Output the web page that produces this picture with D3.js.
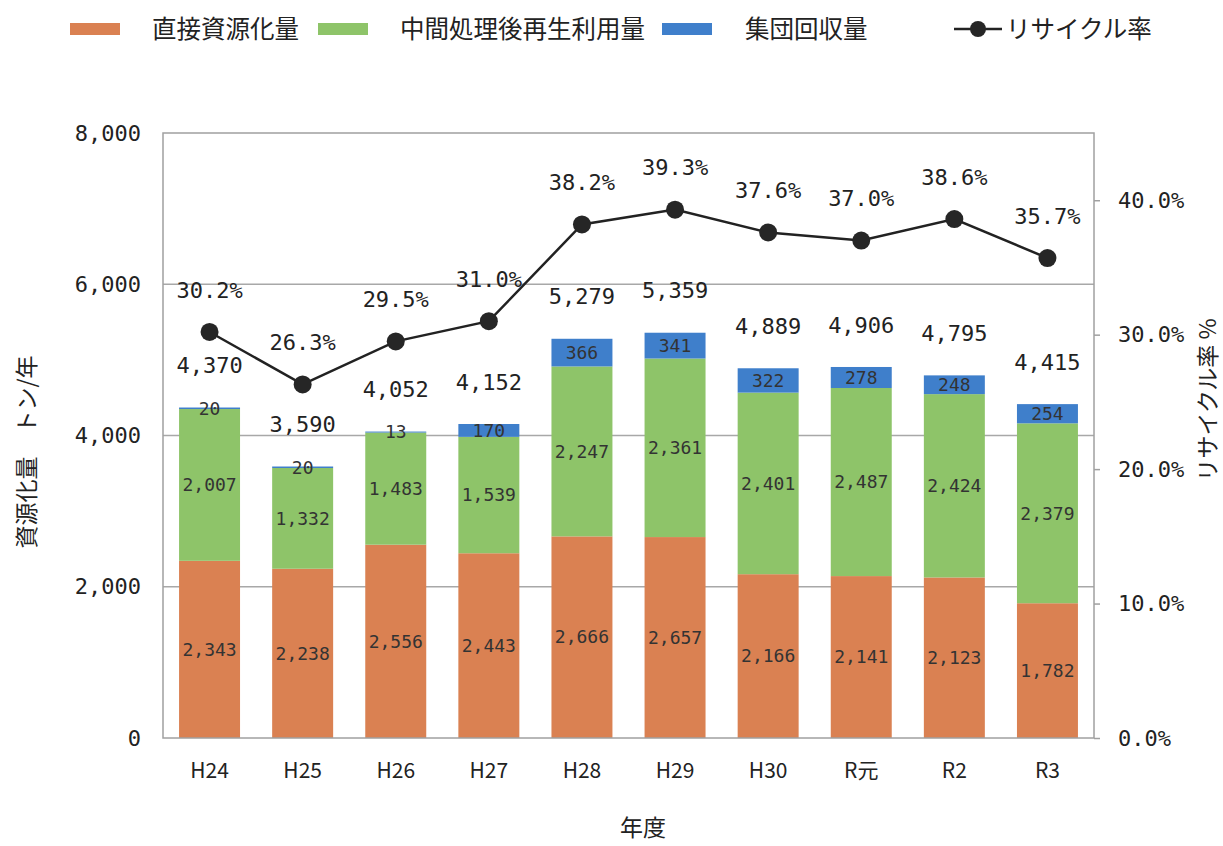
<!DOCTYPE html>
<html>
<head>
<meta charset="utf-8">
<script src="https://cdn.jsdelivr.net/npm/d3@7"></script>
<style>
  body { margin: 0; background: #fff; }
  svg text { fill: #222; }
</style>
</head>
<body>
<svg id="chart" width="1223" height="846"></svg>
<script>
// data
const years = ['H24', 'H25', 'H26', 'H27', 'H28', 'H29', 'H30', 'R元', 'R2', 'R3'];
const direct = [2343, 2238, 2556, 2443, 2666, 2657, 2166, 2141, 2123, 1782];
const intermediate = [2007, 1332, 1483, 1539, 2247, 2361, 2401, 2487, 2424, 2379];
const group = [20, 20, 13, 170, 366, 341, 322, 278, 248, 254];
const rate = [30.2, 26.3, 29.5, 31.0, 38.2, 39.3, 37.6, 37.0, 38.6, 35.7];
const leftTicks = [0, 2000, 4000, 6000, 8000];
const rightTicks = [0, 10, 20, 30, 40];
const seriesNames = ['直接資源化量', '中間処理後再生利用量', '集団回収量'];
const colors = ['#da8152', '#8ec469', '#3f7fcb'];

const svg = d3.select('#chart');
const plotLeft = 163, plotRight = 1094, plotTop = 133, plotBottom = 738;
const numFont = '"DejaVu Sans Mono", monospace';
const jpFont = '"Noto Sans CJK JP", sans-serif';

const x = d3.scaleBand().domain(years).range([plotLeft, plotRight]).paddingInner(0.345).paddingOuter(0.1725);
const y = d3.scaleLinear().domain([0, 8000]).range([plotBottom, plotTop]);
const y2 = d3.scaleLinear().domain([0, 45]).range([plotBottom, plotTop]);

// table for stacking
const rows = years.map((yr, i) => ({ year: yr, s0: direct[i], s1: intermediate[i], s2: group[i] }));
const stack = d3.stack().keys(['s0', 's1', 's2'])(rows);

// grid
svg.append('g').selectAll('line')
  .data(leftTicks.slice(1, -1))
  .join('line')
  .attr('x1', plotLeft).attr('x2', plotRight)
  .attr('y1', d => y(d)).attr('y2', d => y(d))
  .attr('stroke', '#a8a8a8').attr('stroke-width', 1.5);

// bars
const layers = svg.append('g').selectAll('g')
  .data(stack)
  .join('g')
  .attr('fill', (d, i) => colors[i]);

layers.selectAll('rect')
  .data(d => d)
  .join('rect')
  .attr('x', d => x(d.data.year))
  .attr('width', x.bandwidth())
  .attr('y', d => y(d[1]))
  .attr('height', d => y(d[0]) - y(d[1]));

// segment labels
layers.each(function(layer) {
  d3.select(this).selectAll('text')
    .data(layer)
    .join('text')
    .attr('x', d => x(d.data.year) + x.bandwidth() / 2)
    .attr('y', d => (y(d[0]) + y(d[1])) / 2)
    .attr('dy', '0.35em')
    .attr('text-anchor', 'middle')
    .attr('font-family', numFont)
    .attr('font-size', 18)
    .style('fill', '#333')
    .text(d => d3.format(',')(d[1] - d[0]));
});

// totals
svg.append('g').selectAll('text')
  .data(rows)
  .join('text')
  .attr('x', d => x(d.year) + x.bandwidth() / 2)
  .attr('y', d => y(d.s0 + d.s1 + d.s2) - 42)
  .attr('dy', '0.35em')
  .attr('text-anchor', 'middle')
  .attr('font-family', numFont)
  .attr('font-size', 22)
  .text(d => d3.format(',')(d.s0 + d.s1 + d.s2));

// frame
svg.append('rect')
  .attr('x', plotLeft).attr('y', plotTop)
  .attr('width', plotRight - plotLeft).attr('height', plotBottom - plotTop)
  .attr('fill', 'none').attr('stroke', '#a0a0a0').attr('stroke-width', 1.5);

// left axis
const yAxis = svg.append('g')
  .attr('transform', `translate(${plotLeft},0)`)
  .call(d3.axisLeft(y).tickValues(leftTicks).tickSize(0).tickPadding(22).tickFormat(d3.format(',')));
yAxis.select('.domain').remove();
yAxis.selectAll('text').attr('font-family', numFont).attr('font-size', 22);

// right axis
const y2Axis = svg.append('g')
  .attr('transform', `translate(${plotRight},0)`)
  .call(d3.axisRight(y2).tickValues(rightTicks).tickSize(6).tickPadding(18).tickFormat(d => d.toFixed(1) + '%'));
y2Axis.select('.domain').remove();
y2Axis.selectAll('line').attr('stroke', '#a0a0a0').attr('stroke-width', 1.5);
y2Axis.selectAll('text').attr('font-family', numFont).attr('font-size', 22);

// x axis
const xAxis = svg.append('g')
  .attr('transform', `translate(0,${plotBottom})`)
  .call(d3.axisBottom(x).tickSize(0).tickPadding(25));
xAxis.select('.domain').remove();
xAxis.selectAll('text').attr('font-family', jpFont).attr('font-size', 21);

// recycling rate line
const pts = years.map((yr, i) => [x(yr) + x.bandwidth() / 2, y2(rate[i])]);
svg.append('path')
  .attr('d', d3.line()(pts))
  .attr('fill', 'none').attr('stroke', '#222').attr('stroke-width', 2.5);
svg.append('g').selectAll('circle')
  .data(pts)
  .join('circle')
  .attr('cx', d => d[0]).attr('cy', d => d[1]).attr('r', 9)
  .attr('fill', '#262626');
svg.append('g').selectAll('text')
  .data(rate)
  .join('text')
  .attr('x', (d, i) => pts[i][0])
  .attr('y', (d, i) => pts[i][1] - 42)
  .attr('dy', '0.35em')
  .attr('text-anchor', 'middle')
  .attr('font-family', numFont)
  .attr('font-size', 22)
  .text(d => d.toFixed(1) + '%');

// axis titles
svg.append('text')
  .attr('transform', 'translate(27,452) rotate(-90)')
  .attr('text-anchor', 'middle').attr('dy', '0.35em')
  .attr('font-family', jpFont).attr('font-size', 23)
  .text('資源化量　トン/年');
svg.append('text')
  .attr('transform', 'translate(1208,400) rotate(-90)')
  .attr('text-anchor', 'middle').attr('dy', '0.35em')
  .attr('font-family', jpFont).attr('font-size', 23)
  .text('リサイクル率 %');
svg.append('text')
  .attr('x', 643).attr('y', 828).attr('dy', '0.35em')
  .attr('text-anchor', 'middle')
  .attr('font-family', jpFont).attr('font-size', 23)
  .text('年度');

// legend
const legend = svg.append('g').attr('font-family', jpFont).attr('font-size', 24.5);
const legendX = [70, 318, 662];
const legendTextX = [152, 400, 745];
seriesNames.forEach((name, i) => {
  legend.append('rect')
    .attr('x', legendX[i]).attr('y', 23).attr('width', 50).attr('height', 12)
    .attr('fill', colors[i]);
  legend.append('text')
    .attr('x', legendTextX[i]).attr('y', 29).attr('dy', '0.35em')
    .text(name);
});
legend.append('line')
  .attr('x1', 954).attr('x2', 1002).attr('y1', 29).attr('y2', 29)
  .attr('stroke', '#222').attr('stroke-width', 2.5);
legend.append('circle')
  .attr('cx', 978).attr('cy', 29).attr('r', 8).attr('fill', '#262626');
legend.append('text')
  .attr('x', 1006).attr('y', 29).attr('dy', '0.35em')
  .text('リサイクル率');
</script>
</body>
</html>
